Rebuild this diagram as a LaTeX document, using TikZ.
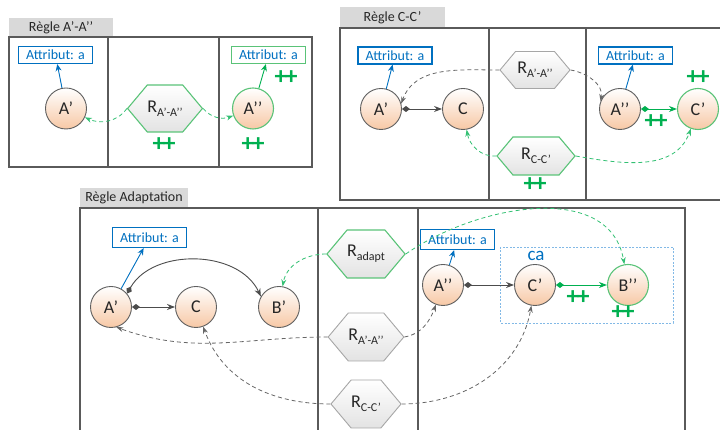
\documentclass[tikz,border=0pt]{standalone}
\usepackage{fontspec}
\setmainfont{Carlito}
\usepackage{xcolor}
\usepackage{tikz}
\usetikzlibrary{calc, shapes.symbols, arrows.meta, positioning}

\definecolor{cadre}{RGB}{90,90,90}
\definecolor{onglet}{RGB}{217,217,217}
\definecolor{bleuatt}{RGB}{0,112,192}
\definecolor{vert}{RGB}{0,176,80}
\definecolor{vertclair}{RGB}{90,195,120}
\definecolor{peche}{RGB}{247,200,165}
\definecolor{bordgris}{RGB}{95,95,95}
\definecolor{bleuca}{RGB}{130,185,230}

\newcommand{\Rsub}[1]{R\raisebox{-0.45ex}{\fontsize{12}{12}\selectfont #1}}
\newcommand{\dplus}{+\kern-2pt+}

\begin{document}
\begin{tikzpicture}[x=1pt, y=1pt,
    cadre/.style={draw=cadre, line width=1.2pt},
    ongletbox/.style={fill=onglet, inner sep=0pt, minimum height=19pt,
        font=\fontsize{14}{14}\selectfont, text=black!85},
    attbox/.style={draw=bleuatt, line width=1.2pt, fill=white, text=bleuatt,
        inner sep=0pt, minimum width=74pt, minimum height=17pt,
        font=\fontsize{14}{14}\selectfont},
    attboxv/.style={attbox, draw=vertclair},
    classe/.style={circle, draw=bordgris, line width=0.9pt, inner sep=0pt,
        minimum size=41pt, top color=white, bottom color=peche,
        font=\fontsize{18}{18}\selectfont, text=black!85},
    classev/.style={classe, draw=vertclair, line width=1.1pt},
    regle/.style={signal, signal to=east and west, signal pointer angle=100,
        draw=gray!70, line width=0.9pt, inner sep=0pt, top color=white,
        bottom color=gray!22, font=\fontsize{18}{18}\selectfont, text=black!85},
    reglev/.style={regle, draw=vertclair, line width=1.1pt},
    plus/.style={text=vert, font=\bfseries\fontsize{25}{25}\selectfont, inner sep=0pt},
    lien/.style={draw=black!70, line width=0.9pt, -{Stealth[length=8pt,width=6pt]}},
    lienlos/.style={lien, {Diamond[length=8pt,width=6pt]}-{Stealth[length=8pt,width=6pt]}},
    lienvert/.style={lienlos, draw=vert},
    attlien/.style={draw=bleuatt, line width=0.9pt, -{Stealth[length=7pt,width=6pt]}},
    attlienv/.style={attlien, draw=vert},
    tiretgris/.style={draw=black!60, line width=0.8pt, dash pattern=on 4pt off 3pt,
        -{Stealth[length=7pt,width=5pt]}},
    tiretvert/.style={tiretgris, draw=vert!80},
]
\useasboundingbox (0,0) rectangle (720,430);

    % =================================================================
    % 1. REGLE A'-A''
    % =================================================================
    \node[ongletbox, minimum width=104pt] (tab1) at (61,402) {Règle A’-A’’};
    \draw[cadre] (9,393) rectangle (312,263);
    \draw[cadre] (108,393) -- (108,263);
    \draw[cadre] (219,393) -- (219,263);

    \node[attbox] (att1) at (55.5,375) {Attribut: a};
    \node[classe] (A1) at (66,321.5) {A’};
    \node[reglev, minimum width=74pt, minimum height=47pt] (R1) at (165,321.5) {\Rsub{A’-A’’}};
    \node[classev] (A2) at (253,321.5) {A’’};
    \node[attboxv] (att2) at (268.5,375) {Attribut: a};

    \node[plus] (p1) at (164,285) {\dplus};
    \node[plus] (p2) at (253,285) {\dplus};
    \node[plus] (p3) at (286,352) {\dplus};

    \draw[attlien] (A1) -- (att1);
    \draw[attlienv] (A2) -- (att2);
    \draw[tiretvert] (R1.west) to[out=235,in=-25] (A1);
    \draw[tiretvert] (R1.east) to[out=-50,in=200] (A2);

    % =================================================================
    % 2. REGLE C-C'
    % =================================================================
    \node[ongletbox, minimum width=105pt, minimum height=21pt] (tab2) at (392.5,412.5) {Règle C-C’};
    \draw[cadre] (723,402) -- (340,402) -- (340,230) -- (723,230);
    \draw[cadre] (489,402) -- (489,230);
    \draw[cadre] (586,402) -- (586,230);

    \node[attbox] (att3) at (395,374.5) {Attribut: a};
    \node[classe] (A3) at (381,321) {A’};
    \node[classe] (C1) at (463,321) {C};
    \node[regle, minimum width=70pt, minimum height=37pt] (R2) at (535,360) {\Rsub{A’-A’’}};
    \node[reglev, minimum width=78pt, minimum height=38pt] (R3) at (536,274) {\Rsub{C-C’}};
    \node[classe] (A4) at (620,321) {A’’};
    \node[classev] (C2) at (698,321) {C’};
    \node[attbox] (att4) at (635.5,374.5) {Attribut: a};

    \node[plus] (p4) at (535,245) {\dplus};
    \node[plus] (p5) at (698,352) {\dplus};
    \node[plus] (p6) at (656,308) {\dplus};

    \draw[attlien] (A3) -- (att3);
    \draw[attlien] (A4) -- (att4);
    \draw[lienlos] (A3) -- (C1);
    \draw[lienvert] (A4) -- (C2);
    \draw[tiretgris] (R2.west) to[out=180,in=70] (A3.15);
    \draw[tiretgris] (R2.east) to[out=-10,in=80] (A4.158);
    \draw[tiretvert] (R3.west) to[out=185,in=-80] (C1);
    \draw[tiretvert] (R3.east) to[out=-10,in=-110] (C2);

    % =================================================================
    % 3. REGLE ADAPTATION
    % =================================================================
    \node[ongletbox, minimum width=108pt, minimum height=20pt] (tab3) at (134,232) {Règle Adaptation};
    \draw[cadre] (80,-5) -- (80,222) -- (685,222) -- (685,-5);
    \draw[cadre] (318,222) -- (318,-5);
    \draw[cadre] (418,222) -- (418,-5);

    % cadre pointille autour de C' et B''
    \draw[bleuca, line width=0.8pt, dash pattern=on 2pt off 1.5pt] (500,183) rectangle (673,107);
    \node[text=bleuatt, font=\fontsize{19}{19}\selectfont] (ca) at (536,174) {ca};

    \node[attbox, minimum height=20pt] (att5) at (149.5,192.5) {Attribut: a};
    \node[classe] (A5) at (111,123) {A’};
    \node[classe] (C3) at (196,123) {C};
    \node[classe] (B1) at (279,123) {B’};
    \node[reglev, minimum width=68pt, minimum height=48pt] (R4) at (366,176) {\Rsub{adapt}};
    \node[regle, minimum width=68pt, minimum height=48pt] (R5) at (366,93) {\Rsub{A’-A’’}};
    \node[regle, minimum width=68pt, minimum height=48pt] (R6) at (366,26) {\Rsub{C-C’}};
    \node[classe] (A6) at (443,145) {A’’};
    \node[classe] (C4) at (535,145) {C’};
    \node[classev] (B2) at (628,145) {B’’};
    \node[attbox, minimum height=20pt] (att6) at (457.5,190.5) {Attribut: a};

    \node[plus] (p7) at (578,132) {\dplus};
    \node[plus] (p8) at (623,117) {\dplus};

    \draw[attlien] (A5) -- (att5);
    \draw[attlien] (A6) -- (att6);
    \draw[lienlos] (A5) -- (C3);
    \draw[lienlos] (A5.40) to[out=60,in=115] (B1.150);
    \draw[lienlos] (A6) -- (C4);
    \draw[lienvert] (C4) -- (B2);

    \draw[tiretvert] (R4.west) to[out=180,in=80] (B1);
    \draw[tiretvert] (R4.east) to[out=35,in=100] (B2);
    \draw[tiretgris] (R5.west) to[out=180,in=-20] (A5.-75);
    \draw[tiretgris] (R6.west) to[out=180,in=-70] (C3);
    \draw[tiretgris] (R5.east) to[out=10,in=-110] (A6);
    \draw[tiretgris] (R6.east) to[out=0,in=-100] (C4);

\end{tikzpicture}
\end{document}
